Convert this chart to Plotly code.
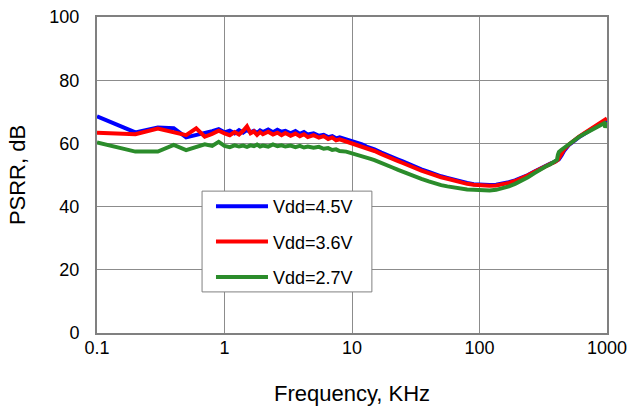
import plotly.graph_objects as go

# frequency points, KHz
freq_low = [0.1, 0.2, 0.3, 0.4, 0.5, 0.6, 0.7, 0.8, 0.9]
freq_mid = [1.0, 1.1, 1.2, 1.3, 1.4, 1.5, 1.6, 1.7, 1.8, 1.9, 2.0, 2.2, 2.4, 2.6, 2.8,
            3.0, 3.3, 3.6, 3.9, 4.2, 4.5, 5.0, 5.5, 6.0, 6.5, 7.0, 7.5, 8.0, 9.0, 10]
freq_dec = [11, 12, 13, 14, 15, 17, 19, 21, 23, 25, 28, 31, 35, 40, 45, 50, 56, 63,
            70, 80, 90, 100]
freq_high = [110, 120, 135, 150, 170, 190, 210, 240, 270, 300, 330, 360, 390, 405,
             412, 420, 440, 460, 500, 550, 600, 650, 700, 800, 900, 950, 970, 985, 1000]

# PSRR, dB  (Vdd = 4.5 V)
psrr_45 = [68.6, 63.5, 65.0, 64.8, 61.9, 62.6, 63.3, 63.9, 64.5,
           63.5, 64.0, 63.2, 64.2, 63.4, 64.3, 63.5, 64.0, 63.3, 64.1, 63.6, 64.4, 63.5,
           64.3, 63.7, 64.0, 63.2, 63.9, 63.0, 63.6, 62.8, 63.2, 62.4, 62.7, 62.0, 62.3,
           61.6, 61.9, 61.3, 60.8,
           60.2, 59.7, 59.0, 58.6, 58.1, 57.1, 56.4, 55.6, 54.9, 54.3, 53.4, 52.7, 51.8,
           51.0, 50.2, 49.6, 49.1, 48.5, 48.0, 47.5, 47.1, 46.9,
           46.8, 46.8, 46.9, 47.2, 47.7, 48.3, 49.0, 50.0, 51.1, 52.1, 52.9, 53.6, 54.2,
           54.5, 54.7, 55.0, 56.2, 57.6, 59.4, 60.8, 61.9, 62.8, 63.6, 65.0, 66.2, 66.8,
           67.0, 67.2, 67.5]

# PSRR, dB  (Vdd = 3.6 V)
psrr_36 = [63.4, 62.9, 64.7, 63.5, 62.6, 64.8, 62.1, 63.0, 64.0,
           63.2, 62.6, 63.6, 62.8, 64.0, 65.4, 63.2, 63.8, 62.7, 63.6, 62.9, 63.7, 62.8,
           63.4, 62.6, 63.3, 62.4, 63.1, 62.3, 62.9, 62.0, 62.6, 61.8, 62.3, 61.4, 61.9,
           61.0, 61.3, 60.6, 60.0,
           59.4, 59.0, 58.4, 58.0, 57.6, 56.6, 55.9, 55.1, 54.4, 53.8, 52.9, 52.3, 51.4,
           50.6, 49.8, 49.3, 48.8, 48.2, 47.7, 47.2, 46.9, 46.7,
           46.6, 46.6, 46.7, 47.0, 47.5, 48.1, 48.8, 49.9, 51.0, 52.0, 52.8, 53.5, 54.1,
           54.5, 54.8, 55.3, 56.9, 58.0, 59.6, 61.0, 62.1, 63.0, 63.8, 65.2, 66.4, 67.0,
           67.3, 67.6, 67.9]

# PSRR, dB  (Vdd = 2.7 V)
psrr_27 = [60.3, 57.4, 57.4, 59.5, 57.9, 58.9, 59.7, 59.2, 60.5,
           59.2, 58.8, 59.4, 59.0, 59.3, 58.9, 59.4, 59.1, 59.6, 59.0, 59.3, 59.0, 59.7,
           59.1, 59.4, 59.0, 59.3, 58.8, 59.2, 58.7, 59.0, 58.6, 58.9, 58.3, 58.5, 57.9,
           58.1, 57.6, 57.4, 56.9,
           56.5, 56.0, 55.5, 55.1, 54.7, 53.9, 53.1, 52.3, 51.6, 51.0, 50.2, 49.6, 48.8,
           48.0, 47.3, 46.8, 46.4, 46.0, 45.7, 45.4, 45.3, 45.2,
           45.1, 45.1, 45.3, 45.7, 46.4, 47.2, 48.0, 49.3, 50.6, 51.8, 52.7, 53.4, 54.2,
           54.8, 56.4, 57.3, 58.0, 58.6, 59.8, 61.0, 62.0, 62.8, 63.5, 64.9, 66.0, 66.4,
           65.0, 65.6, 66.8]

freq = freq_low + freq_mid + freq_dec + freq_high

series = [
    ("Vdd=4.5V", psrr_45, "#0000ff"),
    ("Vdd=3.6V", psrr_36, "#ff0000"),
    ("Vdd=2.7V", psrr_27, "#2b8c2b"),
]

fig = go.Figure()
for name, vals, color in series:
    fig.add_trace(go.Scatter(
        x=freq, y=vals, mode="lines", name=name, legendgroup=name,
        line=dict(color=color, width=4),
    ))

# legend frame drawn as a shape so it can have Excel-like padding
fig.add_shape(
    type="rect", xref="paper", yref="paper",
    x0=0.206, x1=0.539, y0=0.130, y1=0.449,
    fillcolor="white", line=dict(color="#808080", width=1), layer="above",
)

font = "Liberation Sans, Arial, sans-serif"
fig.update_layout(
    width=629, height=406,
    margin=dict(l=97, r=22, t=17, b=73, autoexpand=False),
    paper_bgcolor="white", plot_bgcolor="white",
    font=dict(family=font, size=18, color="black"),
    showlegend=True,
    legend=dict(
        x=0.2235, y=0.459, xanchor="left", yanchor="top",
        bgcolor="rgba(0,0,0,0)", borderwidth=0,
        font=dict(size=18), itemwidth=52, tracegroupgap=9,
    ),
    xaxis=dict(
        type="log", range=[-1, 3], automargin=False,
        tickvals=[0.1, 1, 10, 100, 1000], ticktext=["0.1", "1", "10", "100", "1000"],
        showgrid=True, gridcolor="#8c8c8c", gridwidth=1,
        showline=True, linecolor="#808080", linewidth=2, mirror=True,
        ticks="", ticklen=0, zeroline=False, ticklabelstandoff=-3,
        ticklabeloverflow="allow",
        title=dict(text="Frequency, KHz", standoff=29),
    ),
    yaxis=dict(
        range=[0, 100], tickvals=[0, 20, 40, 60, 80, 100], automargin=False,
        showgrid=True, gridcolor="#8c8c8c", gridwidth=1,
        showline=True, linecolor="#808080", linewidth=2, mirror=True,
        ticks="", ticklen=0, zeroline=False, ticklabelstandoff=12,
        ticklabeloverflow="allow",
        title=dict(text="PSRR, dB", standoff=18),
    ),
)

# drop the page's default body margin so the figure fills the window exactly
fig.write_html(
    "out.html",
    config={"displayModeBar": False},
    post_script="document.body.style.margin='0';document.body.style.overflow='hidden';",
)
